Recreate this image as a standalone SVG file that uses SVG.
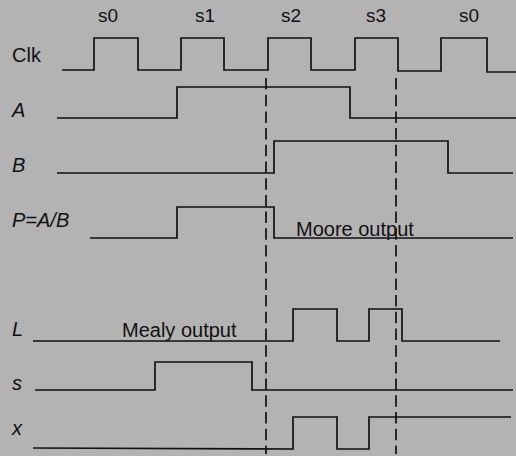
<svg xmlns="http://www.w3.org/2000/svg" width="516" height="456" viewBox="0 0 516 456">
<style>
text{font-family:"Liberation Sans",Arial,sans-serif;fill:#111;font-size:20px}
.it{font-style:italic}
.st{font-size:19px;text-anchor:middle}
.w{fill:none;stroke:#111;stroke-width:1.7}
.d{fill:none;stroke:#111;stroke-width:1.7;stroke-dasharray:11.5 5.2}
</style>
<rect width="516" height="456" fill="#b3b3b3"/>
<g id="states">
<text class="st" x="108" y="22">s0</text>
<text class="st" x="205" y="22">s1</text>
<text class="st" x="291" y="22">s2</text>
<text class="st" x="376" y="22">s3</text>
<text class="st" x="469" y="22">s0</text>
</g>
<g id="clk">
<text x="12" y="62">Clk</text>
<path class="w" d="M62 70 H94 V38 H138 V70 H181 V38 H224 V70 H268 V38 H311 V70 H355 V38 H398 V71 H441 V38 H487 V72 H516"/>
</g>
<g id="A">
<text class="it" x="12" y="117">A</text>
<path class="w" d="M57 118 H177 V87 H350 V118 H516"/>
</g>
<g id="B">
<text class="it" x="12" y="172">B</text>
<path class="w" d="M57 173 H274 V141 H448 V173 H513"/>
</g>
<g id="P">
<text class="it" x="12" y="227">P=A/B</text>
<path class="w" d="M90 238 H177 V207 H274 V238 H513"/>
<text x="296" y="236">Moore output</text>
</g>
<g id="L">
<text class="it" x="12" y="336">L</text>
<path class="w" d="M33 341 H293 V309 H337 V341 H369 V309 H402 V341 H500"/>
<text x="122" y="337">Mealy output</text>
</g>
<g id="s">
<text class="it" x="12" y="390">s</text>
<path class="w" d="M35 390 H155 V362 H252 V390 H513"/>
</g>
<g id="x">
<text class="it" x="12" y="435">x</text>
<path class="w" d="M33 448 L293 449 V417 H337 V449 H369 V417 H511"/>
</g>
<g id="connectors">
<line class="d" x1="266" y1="78" x2="266" y2="454"/>
<line class="d" x1="396" y1="78" x2="396" y2="454"/>
</g>
</svg>
